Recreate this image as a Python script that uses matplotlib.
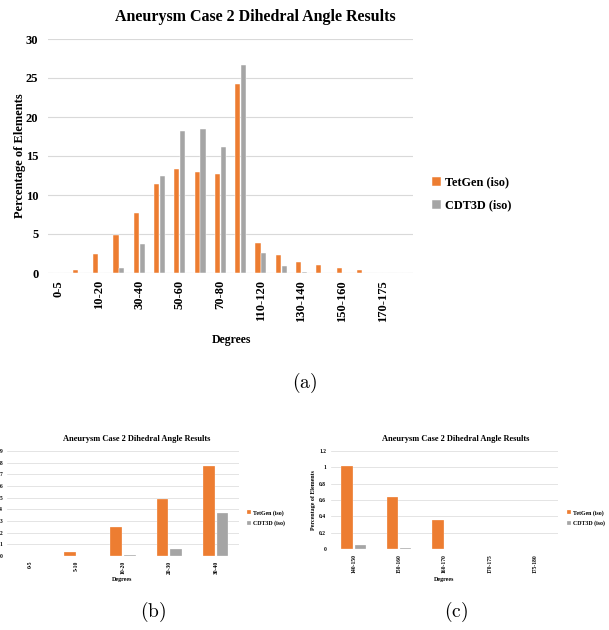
import numpy as np
import matplotlib
matplotlib.use('Agg')
import matplotlib.pyplot as plt
from matplotlib.ticker import FuncFormatter

plt.rcParams['font.family'] = 'Liberation Serif'
plt.rcParams['font.weight'] = 'bold'
plt.rcParams['mathtext.fontset'] = 'cm'

# datos (porcentaje de elementos por rango de angulo)
bins = ['0-5', '5-10', '10-20', '20-30', '30-40', '40-50', '50-60', '60-70',
        '70-80', '80-110', '110-120', '120-130', '130-140', '140-150',
        '150-160', '160-170', '170-175', '175-180']
tetgen = [0.0, 0.33, 2.5, 4.87, 7.7, 11.4, 13.3, 13.0, 12.7, 24.25,
          3.85, 2.35, 1.45, 1.02, 0.64, 0.36, 0.005, 0.0]
cdt3d = [0.0, 0.0, 0.05, 0.6, 3.7, 12.4, 18.25, 18.4, 16.1, 26.7,
         2.56, 0.85, 0.17, 0.05, 0.01, 0.005, 0.0, 0.0]

title = 'Aneurysm Case 2 Dihedral Angle Results'
orange = '#ED7D31'
gray = '#A5A5A5'
grid_c = '#D9D9D9'

def barras(ax, idx, ticks, ymax, ystep, fs, lw, fmt=None):
    x = np.arange(len(idx))
    t = [tetgen[i] for i in idx]
    c = [cdt3d[i] for i in idx]
    ax.bar(x - 0.145, t, 0.25, color=orange, edgecolor='white', linewidth=lw * 0.4,
           label='TetGen (iso)', zorder=3)
    ax.bar(x + 0.145, c, 0.25, color=gray, edgecolor='white', linewidth=lw * 0.4,
           label='CDT3D (iso)', zorder=3)
    ax.set_xlim(-0.5, len(idx) - 0.5)
    ax.set_ylim(0, ymax)
    ax.set_yticks(np.arange(0, ymax + ystep / 2, ystep))
    if fmt is not None:
        ax.yaxis.set_major_formatter(FuncFormatter(fmt))
    ax.set_xticks(ticks)
    ax.set_xticklabels([bins[idx[k]] for k in ticks], rotation=90)
    ax.tick_params(length=0, labelsize=fs)
    ax.grid(axis='y', color=grid_c, linewidth=lw, zorder=0)
    for s in ax.spines.values():
        s.set_visible(False)
    ax.axhline(0, color=grid_c, linewidth=lw, zorder=1)
    return ax

def leyenda(ax, x, y, fs, sp):
    ax.legend(loc='center left', bbox_to_anchor=(x/609, 1 - y/630),
              bbox_transform=fig.transFigure, frameon=False, fontsize=fs,
              borderaxespad=0, borderpad=0, handlelength=0.7, handleheight=0.7,
              handletextpad=0.4, labelspacing=sp)

fig = plt.figure(figsize=(6.09, 6.30), dpi=100)

# (a) grafica principal
ax1 = fig.add_axes([48/609, 1 - 273/630, 365/609, 234/630])
barras(ax1, list(range(18)), list(range(0, 18, 2)), 30, 5, 9, 0.8)
ax1.tick_params(axis='x', pad=5)
ax1.tick_params(axis='y', pad=7)
fig.text(255/609, 1 - 17/630, title, ha='center', va='center', fontsize=11.5, weight='bold')
fig.text(20/609, 1 - 156/630, 'Percentage of Elements', rotation=90,
         ha='center', va='center', fontsize=9, weight='bold')
fig.text(231/609, 1 - 340/630, 'Degrees', ha='center', va='center', fontsize=8.5, weight='bold')
leyenda(ax1, 432, 194, 8.8, 0.9)

# (b) rangos bajos
ax2 = fig.add_axes([7/609, 1 - 556/630, 232/609, 105/630])
barras(ax2, [0, 1, 2, 3, 4], [0, 1, 2, 3, 4], 9, 1, 4, 0.5)
fig.text(137/609, 1 - 439/630, title, ha='center', va='center', fontsize=6, weight='bold')
fig.text(122/609, 1 - 580/630, 'Degrees', ha='center', va='center', fontsize=4.3, weight='bold')
leyenda(ax2, 247, 518, 4.2, 0.8)

# (c) rangos altos
ax3 = fig.add_axes([331/609, 1 - 549/630, 227/609, 98/630])
barras(ax3, [13, 14, 15, 16, 17], [0, 1, 2, 3, 4], 1.2, 0.2, 4, 0.5,
       fmt=lambda v, p: '%g' % round(v, 1))
fig.text(456/609, 1 - 439/630, title, ha='center', va='center', fontsize=6, weight='bold')
fig.text(313/609, 1 - 500/630, 'Percentage of Elements', rotation=90,
         ha='center', va='center', fontsize=4.3, weight='bold')
fig.text(444/609, 1 - 580/630, 'Degrees', ha='center', va='center', fontsize=4.3, weight='bold')
leyenda(ax3, 567, 518, 4.2, 0.8)

# subtitulos
fig.text(305/609, 1 - 383/630, r'$\mathrm{(a)}$', ha='center', va='center', fontsize=14)
fig.text(153/609, 1 - 612/630, r'$\mathrm{(b)}$', ha='center', va='center', fontsize=14)
fig.text(456/609, 1 - 612/630, r'$\mathrm{(c)}$', ha='center', va='center', fontsize=14)

fig.savefig('out.png', dpi=100)
